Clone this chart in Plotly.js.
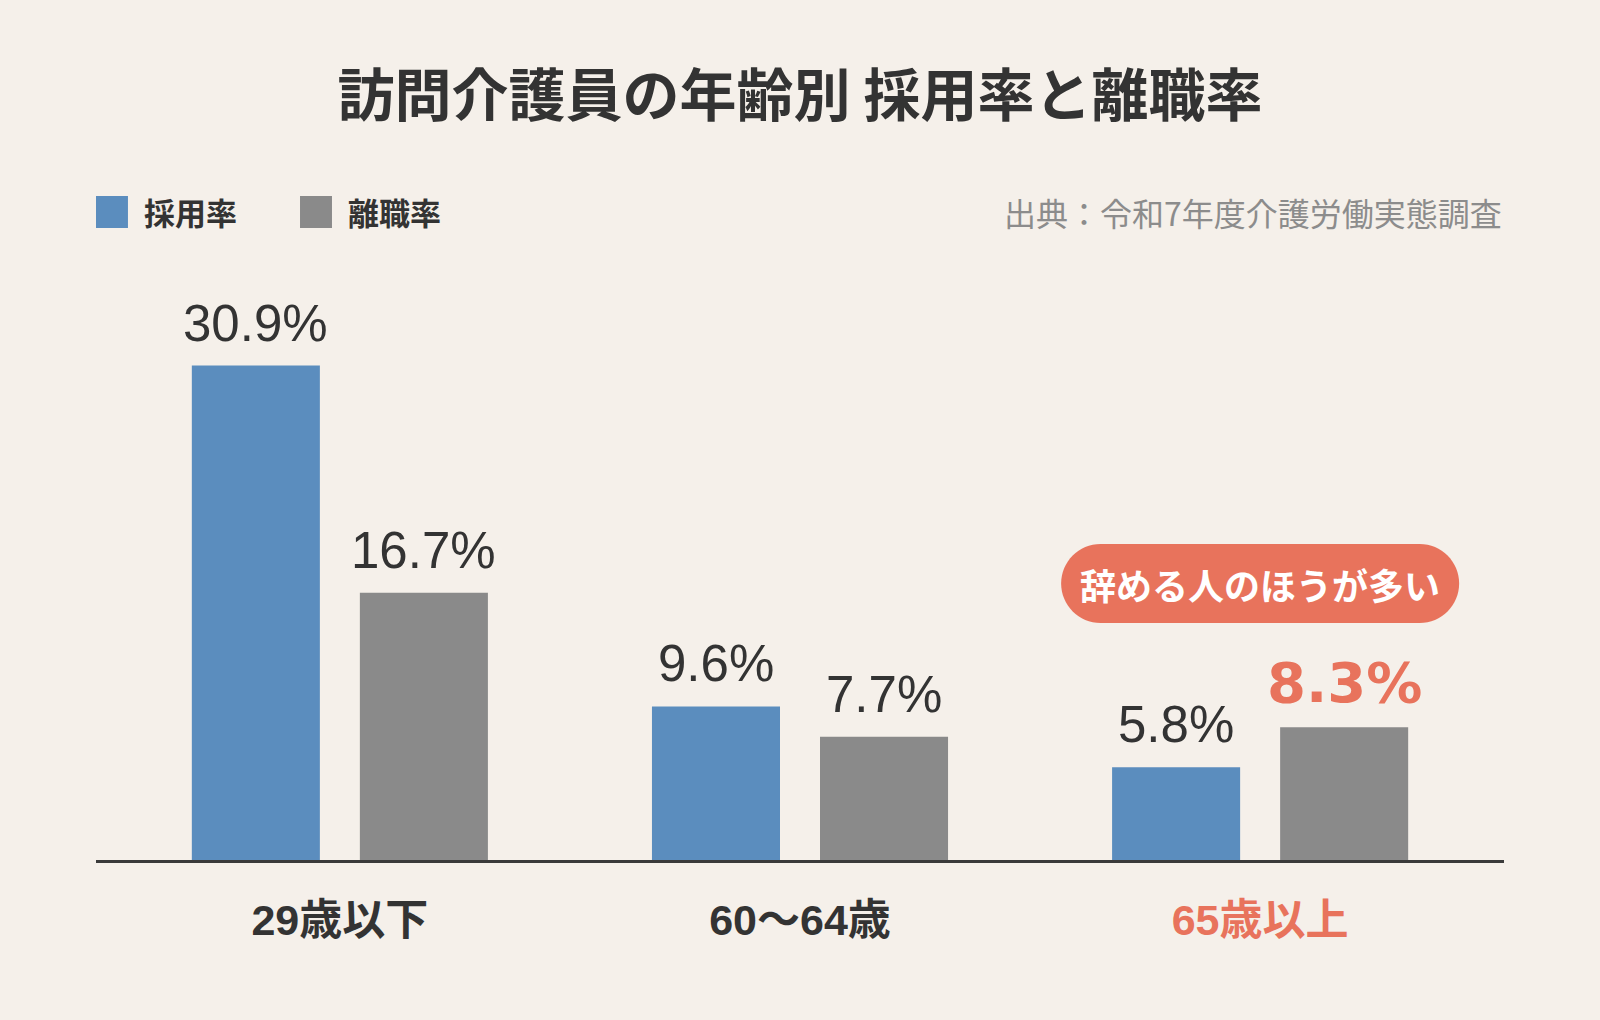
<!DOCTYPE html>
<html>
<head>
<meta charset="utf-8">
<script src="https://cdn.plot.ly/plotly-3.0.1.min.js"></script>
<style>
html,body{margin:0;padding:0;background:#F5F0EA;}
#chart{width:1600px;height:1020px;}
</style>
</head>
<body>
<div id="chart"></div>
<script>
// ---- data ----
var categories = ["29歳以下", "60〜64歳", "65歳以上"];
var hireRate = [30.9, 9.6, 5.8];      // 採用率
var leaveRate = [16.7, 7.7, 8.3];     // 離職率
var seriesNames = ["採用率", "離職率"];
var titleText = "訪問介護員の年齢別 採用率と離職率";
var sourceText = "出典：令和7年度介護労働実態調査";
var calloutText = "辞める人のほうが多い";
var highlightIndex = 2;

// ---- styles ----
var BG = "#F5F0EA";
var BLUE = "#5B8DBE";
var GRAY = "#8A8A8A";
var ACCENT = "#E8735C";
var DARK = "#333333";
var CJK = "'Noto Sans CJK JP', sans-serif";
var LATIN = "'Liberation Sans', Arial, sans-serif";

var traces = [
  {type: "bar", name: seriesNames[0], x: categories, y: hireRate,
   marker: {color: BLUE}, hoverinfo: "none"},
  {type: "bar", name: seriesNames[1], x: categories, y: leaveRate,
   marker: {color: GRAY}, hoverinfo: "none"}
];

var annotations = [];
function fmt(v){ return v.toFixed(1) + "%"; }
categories.forEach(function(c, i){
  annotations.push({
    x: i, y: hireRate[i], xref: "x", yref: "y", xshift: -84, yshift: 12,
    text: fmt(hireRate[i]), showarrow: false, xanchor: "center", yanchor: "bottom",
    font: {family: LATIN, size: 51, color: DARK}
  });
  var hl = (i === highlightIndex);
  annotations.push({
    x: i, y: leaveRate[i], xref: "x", yref: "y", xshift: 84, yshift: hl ? 10 : 12,
    text: fmt(leaveRate[i]), showarrow: false, xanchor: "center", yanchor: "bottom",
    font: hl ? {family: "'DejaVu Sans', sans-serif", size: 56, color: ACCENT, weight: "bold"}
             : {family: LATIN, size: 51, color: DARK}
  });
});

// legend (manual)
var legendY = 1.08;
annotations.push({xref: "paper", yref: "paper", x: 0.0325, y: legendY, xanchor: "left", yanchor: "middle",
  text: "<b>" + seriesNames[0] + "</b>", showarrow: false, font: {family: CJK, size: 31, color: DARK}});
annotations.push({xref: "paper", yref: "paper", x: 0.1775, y: legendY, xanchor: "left", yanchor: "middle",
  text: "<b>" + seriesNames[1] + "</b>", showarrow: false, font: {family: CJK, size: 31, color: DARK}});
// source
annotations.push({xref: "paper", yref: "paper", x: 1.0, y: legendY, xanchor: "right", yanchor: "middle",
  text: sourceText, showarrow: false, font: {family: CJK, size: 32, color: "#8C8C8C"}});
// callout text
var calloutY = 17.28;
annotations.push({xref: "x", yref: "y", x: highlightIndex, y: calloutY, xanchor: "center", yanchor: "middle",
  text: "<b>" + calloutText + "</b>", showarrow: false, font: {family: CJK, size: 36, color: "#FFFFFF"}});

// pill path in pixels
var hw = 199, hh = 39.5, k = 0.5523 * hh, s = hw - hh;
var pill = "M" + (-s) + "," + (-hh) + " L" + s + "," + (-hh) +
  " C" + (s + k) + "," + (-hh) + " " + hw + "," + (-k) + " " + hw + ",0" +
  " C" + hw + "," + k + " " + (s + k) + "," + hh + " " + s + "," + hh +
  " L" + (-s) + "," + hh +
  " C" + (-s - k) + "," + hh + " " + (-hw) + "," + k + " " + (-hw) + ",0" +
  " C" + (-hw) + "," + (-k) + " " + (-s - k) + "," + (-hh) + " " + (-s) + "," + (-hh) + " Z";

var shapes = [
  {type: "rect", xref: "paper", yref: "paper", x0: 0, x1: 0.0227, y0: 1.0533, y1: 1.1067,
   fillcolor: BLUE, line: {width: 0}},
  {type: "rect", xref: "paper", yref: "paper", x0: 0.1449, x1: 0.1676, y0: 1.0533, y1: 1.1067,
   fillcolor: GRAY, line: {width: 0}},
  {type: "path", xref: "x", yref: "y", xsizemode: "pixel", ysizemode: "pixel",
   xanchor: highlightIndex, yanchor: calloutY, path: pill, fillcolor: ACCENT, line: {width: 0}, layer: "below"}
];

var tickText = categories.map(function(c, i){
  if (i === highlightIndex) return '<span style="color:' + ACCENT + '"><b>' + c + '</b></span>';
  return "<b>" + c + "</b>";
});

var layout = {
  width: 1600, height: 1020,
  paper_bgcolor: BG, plot_bgcolor: BG,
  margin: {l: 96, r: 96, t: 260, b: 160},
  showlegend: false,
  barmode: "group", bargap: 0.2696, bargroupgap: 0.238,
  title: {text: "<b>" + titleText + "</b>", x: 0.5, xanchor: "center", y: 0.906, yanchor: "middle",
          font: {family: CJK, size: 57, color: DARK}},
  xaxis: {type: "category", range: [-0.53, 2.53], tickmode: "array", tickvals: categories, ticktext: tickText,
          showline: true, linecolor: "#3A3A3A", linewidth: 3, ticks: "", showgrid: false, zeroline: false,
          ticklabelstandoff: 20, tickfont: {family: LATIN + ", " + CJK, size: 43, color: DARK}},
  yaxis: {range: [0, 37.5], visible: false, showgrid: false, zeroline: false},
  annotations: annotations,
  shapes: shapes
};

Plotly.newPlot("chart", traces, layout, {displayModeBar: false, staticPlot: true});
</script>
</body>
</html>
